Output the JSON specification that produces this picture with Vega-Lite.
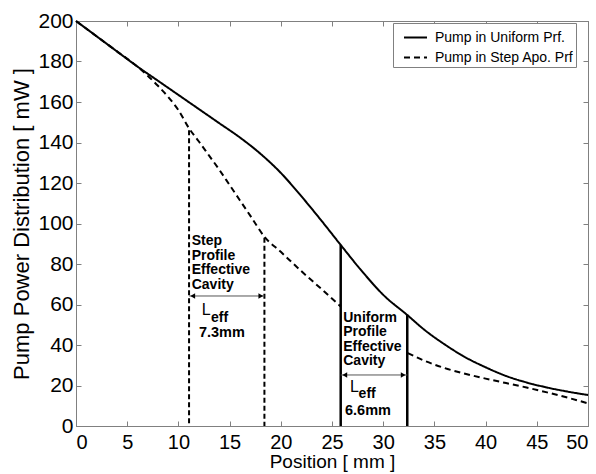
{
  "$schema": "https://vega.github.io/schema/vega-lite/v6.json",
  "width": 512,
  "height": 405,
  "autosize": {"type": "none"},
  "padding": {"left": 76, "top": 21, "right": 8, "bottom": 48},
  "background": "white",
  "config": {
    "font": "Liberation Sans",
    "view": {"stroke": "#808080", "strokeWidth": 1},
    "axis": {
      "grid": false,
      "domainColor": "#808080",
      "tickColor": "#808080",
      "tickSize": -5,
      "labelFont": "Liberation Sans",
      "labelFontSize": 20,
      "labelColor": "black",
      "titleFont": "Liberation Sans",
      "titleFontSize": 20,
      "titleFontWeight": "normal",
      "titleColor": "black"
    },
    "legend": {
      "orient": "none",
      "legendX": 317,
      "legendY": 2,
      "strokeColor": "#808080",
      "fillColor": "white",
      "padding": 2,
      "symbolType": "stroke",
      "symbolStrokeWidth": 2,
      "symbolSize": 529,
      "symbolStrokeColor": "black",
      "symbolOffset": 8,
      "labelFont": "Liberation Sans",
      "labelFontSize": 14,
      "labelColor": "black",
      "labelOffset": 7,
      "rowPadding": -8
    }
  },
  "datasets": {
    "curves": [
      {"series": "Pump in Uniform Prf.", "seg": "u", "x": 0, "y": 200},
      {"series": "Pump in Uniform Prf.", "seg": "u", "x": 2, "y": 192.5},
      {"series": "Pump in Uniform Prf.", "seg": "u", "x": 4, "y": 185},
      {"series": "Pump in Uniform Prf.", "seg": "u", "x": 6, "y": 177.5},
      {"series": "Pump in Uniform Prf.", "seg": "u", "x": 8, "y": 170.5},
      {"series": "Pump in Uniform Prf.", "seg": "u", "x": 10, "y": 163.5},
      {"series": "Pump in Uniform Prf.", "seg": "u", "x": 12, "y": 156.5},
      {"series": "Pump in Uniform Prf.", "seg": "u", "x": 14, "y": 149.5},
      {"series": "Pump in Uniform Prf.", "seg": "u", "x": 16, "y": 142.5},
      {"series": "Pump in Uniform Prf.", "seg": "u", "x": 18, "y": 134.5},
      {"series": "Pump in Uniform Prf.", "seg": "u", "x": 20, "y": 125},
      {"series": "Pump in Uniform Prf.", "seg": "u", "x": 22, "y": 113.5},
      {"series": "Pump in Uniform Prf.", "seg": "u", "x": 24, "y": 101.2},
      {"series": "Pump in Uniform Prf.", "seg": "u", "x": 25.85, "y": 89.4},
      {"series": "Pump in Uniform Prf.", "seg": "u", "x": 28, "y": 76},
      {"series": "Pump in Uniform Prf.", "seg": "u", "x": 30, "y": 64.8},
      {"series": "Pump in Uniform Prf.", "seg": "u", "x": 32.35, "y": 54.8},
      {"series": "Pump in Uniform Prf.", "seg": "u", "x": 34, "y": 47.6},
      {"series": "Pump in Uniform Prf.", "seg": "u", "x": 36, "y": 40.3},
      {"series": "Pump in Uniform Prf.", "seg": "u", "x": 38, "y": 34},
      {"series": "Pump in Uniform Prf.", "seg": "u", "x": 40, "y": 29},
      {"series": "Pump in Uniform Prf.", "seg": "u", "x": 42, "y": 24.7},
      {"series": "Pump in Uniform Prf.", "seg": "u", "x": 44, "y": 21.5},
      {"series": "Pump in Uniform Prf.", "seg": "u", "x": 46, "y": 19},
      {"series": "Pump in Uniform Prf.", "seg": "u", "x": 48, "y": 17},
      {"series": "Pump in Uniform Prf.", "seg": "u", "x": 50, "y": 15.3},
      {"series": "Pump in Step Apo. Prf", "seg": "s1", "x": 0, "y": 200},
      {"series": "Pump in Step Apo. Prf", "seg": "s1", "x": 2, "y": 192.5},
      {"series": "Pump in Step Apo. Prf", "seg": "s1", "x": 4, "y": 185},
      {"series": "Pump in Step Apo. Prf", "seg": "s1", "x": 6, "y": 177.5},
      {"series": "Pump in Step Apo. Prf", "seg": "s1", "x": 7, "y": 173},
      {"series": "Pump in Step Apo. Prf", "seg": "s1", "x": 8, "y": 168},
      {"series": "Pump in Step Apo. Prf", "seg": "s1", "x": 9, "y": 162.5},
      {"series": "Pump in Step Apo. Prf", "seg": "s1", "x": 10, "y": 156},
      {"series": "Pump in Step Apo. Prf", "seg": "s1", "x": 11.04, "y": 147},
      {"series": "Pump in Step Apo. Prf", "seg": "s1", "x": 12, "y": 140.5},
      {"series": "Pump in Step Apo. Prf", "seg": "s1", "x": 13, "y": 133.5},
      {"series": "Pump in Step Apo. Prf", "seg": "s1", "x": 14, "y": 126.5},
      {"series": "Pump in Step Apo. Prf", "seg": "s1", "x": 15, "y": 119},
      {"series": "Pump in Step Apo. Prf", "seg": "s1", "x": 16, "y": 111.5},
      {"series": "Pump in Step Apo. Prf", "seg": "s1", "x": 17, "y": 104},
      {"series": "Pump in Step Apo. Prf", "seg": "s1", "x": 18.4, "y": 93.5},
      {"series": "Pump in Step Apo. Prf", "seg": "s1", "x": 20, "y": 86},
      {"series": "Pump in Step Apo. Prf", "seg": "s1", "x": 22, "y": 76.5},
      {"series": "Pump in Step Apo. Prf", "seg": "s1", "x": 24, "y": 67.5},
      {"series": "Pump in Step Apo. Prf", "seg": "s1", "x": 25.85, "y": 59},
      {"series": "Pump in Step Apo. Prf", "seg": "s2", "x": 32.4, "y": 36},
      {"series": "Pump in Step Apo. Prf", "seg": "s2", "x": 34, "y": 32.3},
      {"series": "Pump in Step Apo. Prf", "seg": "s2", "x": 36, "y": 28.6},
      {"series": "Pump in Step Apo. Prf", "seg": "s2", "x": 38, "y": 25.8},
      {"series": "Pump in Step Apo. Prf", "seg": "s2", "x": 40, "y": 23.4},
      {"series": "Pump in Step Apo. Prf", "seg": "s2", "x": 42, "y": 21.2},
      {"series": "Pump in Step Apo. Prf", "seg": "s2", "x": 44, "y": 19},
      {"series": "Pump in Step Apo. Prf", "seg": "s2", "x": 46, "y": 16.6},
      {"series": "Pump in Step Apo. Prf", "seg": "s2", "x": 48, "y": 14},
      {"series": "Pump in Step Apo. Prf", "seg": "s2", "x": 50, "y": 11.2}
    ],
    "verticals": [
      {"profile": "Step", "x": 11.04, "ytop": 146},
      {"profile": "Step", "x": 18.4, "ytop": 93},
      {"profile": "Uniform", "x": 25.85, "ytop": 89.4},
      {"profile": "Uniform", "x": 32.35, "ytop": 55}
    ],
    "arrows": [
      {"profile": "Step", "x1": 11.04, "x2": 18.4, "y": 64.2},
      {"profile": "Uniform", "x1": 25.85, "x2": 32.35, "y": 25.2}
    ],
    "heads": [
      {"x": 11.4, "y": 64.2, "dir": "left"},
      {"x": 18.05, "y": 64.2, "dir": "right"},
      {"x": 26.25, "y": 25.2, "dir": "left"},
      {"x": 31.95, "y": 25.2, "dir": "right"}
    ],
    "blocks": [
      {"x": 11.3, "y": 94.8, "text": ["Step", "Profile", "Effective", "Cavity"]},
      {"x": 26.1, "y": 56.9, "text": ["Uniform", "Profile", "Effective", "Cavity"]}
    ],
    "lsym": [
      {"x": 12.27, "y": 61.2, "text": "L"},
      {"x": 26.76, "y": 23.2, "text": "L"}
    ],
    "sub": [
      {"x": 13.18, "y": 56.9, "text": "eff"},
      {"x": 27.6, "y": 19.3, "text": "eff"}
    ],
    "vals": [
      {"x": 12.0, "y": 49.4, "text": "7.3mm"},
      {"x": 26.27, "y": 10.9, "text": "6.6mm"}
    ]
  },
  "layer": [
    {
      "data": {"name": "curves"},
      "mark": {"type": "line", "color": "black", "strokeWidth": 2, "interpolate": "monotone"},
      "encoding": {
        "x": {"field": "x", "type": "quantitative", "scale": {"domain": [0, 50], "nice": false},
              "axis": {"orient": "bottom", "title": "Position [ mm ]", "values": [0,5,10,15,20,25,30,35,40,45,50], "labelPadding": 11, "titlePadding": 0, "titleFontSize": 19}},
        "y": {"field": "y", "type": "quantitative", "scale": {"domain": [0, 200], "nice": false},
              "axis": {"orient": "left", "title": "Pump Power Distribution [ mW ]", "values": [0,20,40,60,80,100,120,140,160,180,200], "labelPadding": 8, "labelFontSize": 21, "titlePadding": 4, "titleFontSize": 22}},
        "strokeDash": {"field": "series", "type": "nominal",
              "scale": {"domain": ["Pump in Uniform Prf.", "Pump in Step Apo. Prf"], "range": [[1, 0], [6, 4]]},
              "legend": {"title": null}},
        "detail": {"field": "seg", "type": "nominal"}
      }
    },
    {
      "data": {"name": "verticals"},
      "transform": [{"filter": "datum.profile === 'Step'"}],
      "mark": {"type": "rule", "color": "black", "strokeWidth": 2, "strokeDash": [5, 3]},
      "encoding": {
        "x": {"field": "x", "type": "quantitative", "axis": null},
        "y": {"field": "ytop", "type": "quantitative", "axis": null},
        "y2": {"datum": 0}
      }
    },
    {
      "data": {"name": "verticals"},
      "transform": [{"filter": "datum.profile === 'Uniform'"}],
      "mark": {"type": "rule", "color": "black", "strokeWidth": 2.5},
      "encoding": {
        "x": {"field": "x", "type": "quantitative", "axis": null},
        "y": {"field": "ytop", "type": "quantitative", "axis": null},
        "y2": {"datum": 0}
      }
    },
    {
      "data": {"name": "arrows"},
      "mark": {"type": "rule", "color": "#555555", "strokeWidth": 1},
      "encoding": {
        "x": {"field": "x1", "type": "quantitative", "axis": null},
        "x2": {"field": "x2"},
        "y": {"field": "y", "type": "quantitative", "axis": null}
      }
    },
    {
      "data": {"name": "heads"},
      "mark": {"type": "point", "filled": true, "color": "black", "opacity": 1, "size": 30},
      "encoding": {
        "x": {"field": "x", "type": "quantitative", "axis": null},
        "y": {"field": "y", "type": "quantitative", "axis": null},
        "shape": {"field": "dir", "type": "nominal", "scale": {"domain": ["left", "right"], "range": ["triangle-left", "triangle-right"]}, "legend": null}
      }
    },
    {
      "data": {"name": "blocks"},
      "mark": {"type": "text", "align": "left", "baseline": "top", "font": "Liberation Sans", "fontWeight": "bold", "fontSize": 14, "lineHeight": 14.5, "color": "black"},
      "encoding": {
        "x": {"field": "x", "type": "quantitative", "axis": null},
        "y": {"field": "y", "type": "quantitative", "axis": null},
        "text": {"field": "text", "type": "nominal"}
      }
    },
    {
      "data": {"name": "lsym"},
      "mark": {"type": "text", "align": "left", "baseline": "top", "font": "Liberation Sans", "fontSize": 16, "color": "black"},
      "encoding": {
        "x": {"field": "x", "type": "quantitative", "axis": null},
        "y": {"field": "y", "type": "quantitative", "axis": null},
        "text": {"field": "text", "type": "nominal"}
      }
    },
    {
      "data": {"name": "sub"},
      "mark": {"type": "text", "align": "left", "baseline": "top", "font": "Liberation Sans", "fontWeight": "bold", "fontSize": 14, "color": "black"},
      "encoding": {
        "x": {"field": "x", "type": "quantitative", "axis": null},
        "y": {"field": "y", "type": "quantitative", "axis": null},
        "text": {"field": "text", "type": "nominal"}
      }
    },
    {
      "data": {"name": "vals"},
      "mark": {"type": "text", "align": "left", "baseline": "top", "font": "Liberation Sans", "fontWeight": "bold", "fontSize": 14.5, "color": "black"},
      "encoding": {
        "x": {"field": "x", "type": "quantitative", "axis": null},
        "y": {"field": "y", "type": "quantitative", "axis": null},
        "text": {"field": "text", "type": "nominal"}
      }
    },
    {
      "data": {"name": "verticals"},
      "mark": {"type": "point", "opacity": 0},
      "encoding": {
        "x": {"field": "x", "type": "quantitative",
              "axis": {"orient": "top", "labels": false, "title": null, "values": [0,5,10,15,20,25,30,35,40,45,50]}},
        "y": {"field": "ytop", "type": "quantitative",
              "axis": {"orient": "right", "labels": false, "title": null, "values": [0,20,40,60,80,100,120,140,160,180,200]}}
      }
    }
  ],
  "resolve": {"axis": {"x": "independent", "y": "independent"}}
}
